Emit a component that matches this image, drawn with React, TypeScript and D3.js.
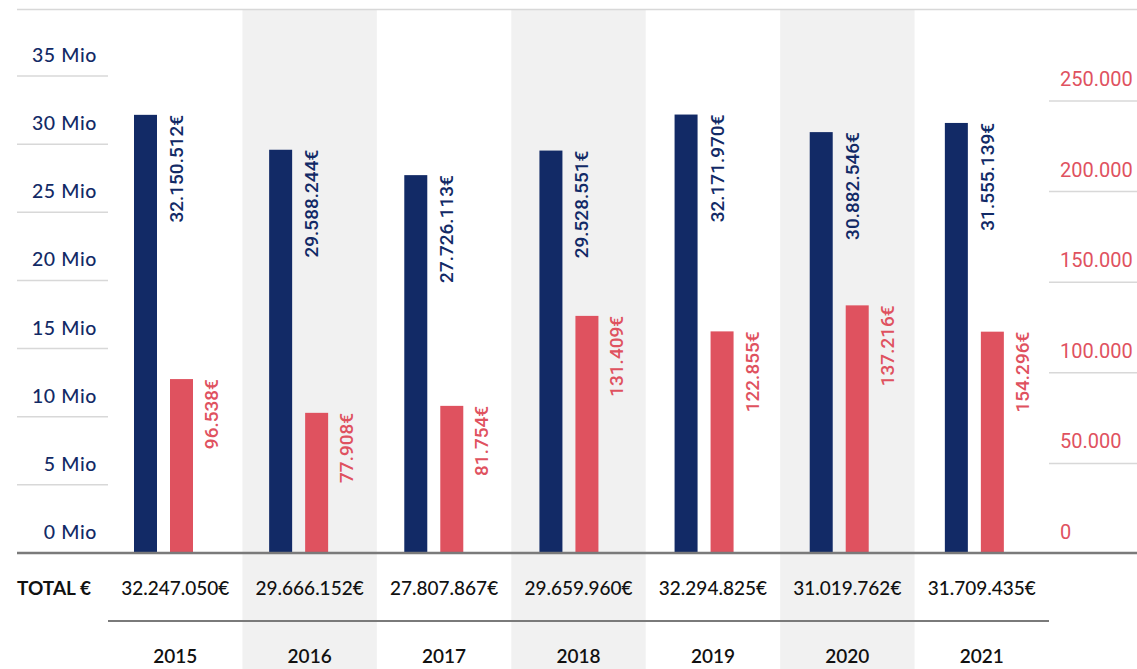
import React from "react";
import * as d3 from "d3";

const years = ["2015", "2016", "2017", "2018", "2019", "2020", "2021"];
const blueValues = [32150512, 29588244, 27726113, 29528551, 32171970, 30882546, 31555139];
// heights of the red bars as drawn in the picture
const redBarValues = [96538, 77908, 81754, 131409, 122855, 137216, 122700];
// red values as printed on the labels
const redLabelValues = [96538, 77908, 81754, 131409, 122855, 137216, 154296];
const totals = [32247050, 29666152, 27807867, 29659960, 32294825, 31019762, 31709435];
const leftTicks = [0, 5, 10, 15, 20, 25, 30, 35];
const rightTicks = [0, 50000, 100000, 150000, 200000, 250000];

const W = 1137;
const H = 669;
const NAVY = "#122a66";
const RED = "#df525f";
const GRID = "#d8d8d8";
const DARK_LINE = "#7a7a7a";
const SHADE = "#f1f1f1";

const de = d3.formatLocale({ decimal: ",", thousands: ".", grouping: [3], currency: ["", "€"] });
const fmt = de.format(",.0f");

export default function App() {
  const xBand = d3.scaleBand<string>().domain(years).range([108, 1049]).padding(0);
  const xBar = d3.scaleBand<string>().domain(years).range([108, 1054]).padding(0);
  const yLeft = d3.scaleLinear().domain([0, 35e6]).range([553, 76]);
  const yRight = d3.scaleLinear().domain([0, 250000]).range([554, 101]);
  const barW = 23;

  const axisFont = "Lato, 'Open Sans', sans-serif";
  const barLabelFont = "Roboto, 'DejaVu Sans Condensed', sans-serif";

  return (
    <svg
      width={W}
      height={H}
      style={{ position: "absolute", left: 0, top: 0, display: "block", background: "#fff" }}
    >
      {/* shaded columns */}
      {years.map((yr, i) =>
        i % 2 === 1 ? (
          <rect key={"s" + yr} x={xBand(yr)} y={10} width={xBand.bandwidth()} height={H - 10} fill={SHADE} />
        ) : null
      )}
      {/* top line */}
      <line x1={17} x2={W} y1={9.5} y2={9.5} stroke={GRID} strokeWidth={1.5} />

      {/* left gridlines + labels */}
      {leftTicks.map((t) => (
        <g key={"l" + t}>
          {t > 0 && (
            <line x1={17} x2={108} y1={yLeft(t * 1e6)} y2={yLeft(t * 1e6)} stroke={GRID} strokeWidth={1.5} />
          )}
          <text
            x={97}
            y={yLeft(t * 1e6) - 14}
            textAnchor="end"
            fontFamily={axisFont}
            fontWeight={500}
            fontSize={19.5}
            letterSpacing={0.6}
            fill={NAVY}
          >
            {t} Mio
          </text>
        </g>
      ))}

      {/* right gridlines + labels */}
      {rightTicks.map((t) => (
        <g key={"r" + t}>
          {t > 0 && <line x1={1049} x2={W} y1={yRight(t)} y2={yRight(t)} stroke={GRID} strokeWidth={1.5} />}
          <text
            x={1060}
            y={yRight(t) - 15}
            textAnchor="start"
            fontFamily="Roboto, sans-serif"
            fontSize={20}
            fill={RED}
          >
            {fmt(t)}
          </text>
        </g>
      ))}

      {/* bars */}
      {years.map((yr, i) => {
        const bx = (xBar(yr) as number) + 26;
        const rx = (xBar(yr) as number) + 62;
        const by = yLeft(blueValues[i]);
        const ry = yRight(redBarValues[i]);
        return (
          <g key={"b" + yr}>
            <rect x={bx} y={by} width={barW} height={553 - by} fill={NAVY} />
            <rect x={rx} y={ry} width={barW} height={553 - ry} fill={RED} />
            <text
              transform={`translate(${bx + barW + 26},${by}) rotate(-90)`}
              textAnchor="end"
              fontFamily={barLabelFont}
              fontWeight={500}
              fontSize={19}
              fill={NAVY}
            >
              {fmt(blueValues[i])}€
            </text>
            <text
              transform={`translate(${rx + barW + 25},${ry}) rotate(-90)`}
              textAnchor="end"
              fontFamily={barLabelFont}
              fontWeight={500}
              fontSize={19}
              fill={RED}
            >
              {fmt(redLabelValues[i])}€
            </text>
          </g>
        );
      })}

      {/* baseline */}
      <line x1={17} x2={W} y1={553} y2={553} stroke={DARK_LINE} strokeWidth={2.5} />
      {/* total row */}
      <text x={17} y={595} fontFamily={axisFont} fontWeight={700} fontSize={19} fill="#111">
        TOTAL €
      </text>
      {years.map((yr, i) => (
        <text
          key={"t" + yr}
          x={(xBand(yr) as number) + xBand.bandwidth() / 2}
          y={595}
          textAnchor="middle"
          fontFamily={axisFont}
          fontWeight={500}
          fontSize={19}
          fill="#111"
        >
          {fmt(totals[i])}€
        </text>
      ))}
      <line x1={108} x2={1049} y1={621} y2={621} stroke={DARK_LINE} strokeWidth={2} />
      {/* years */}
      {years.map((yr) => (
        <text
          key={"y" + yr}
          x={(xBand(yr) as number) + xBand.bandwidth() / 2}
          y={663}
          textAnchor="middle"
          fontFamily={axisFont}
          fontWeight={600}
          fontSize={19}
          fill="#111"
        >
          {yr}
        </text>
      ))}
    </svg>
  );
}
